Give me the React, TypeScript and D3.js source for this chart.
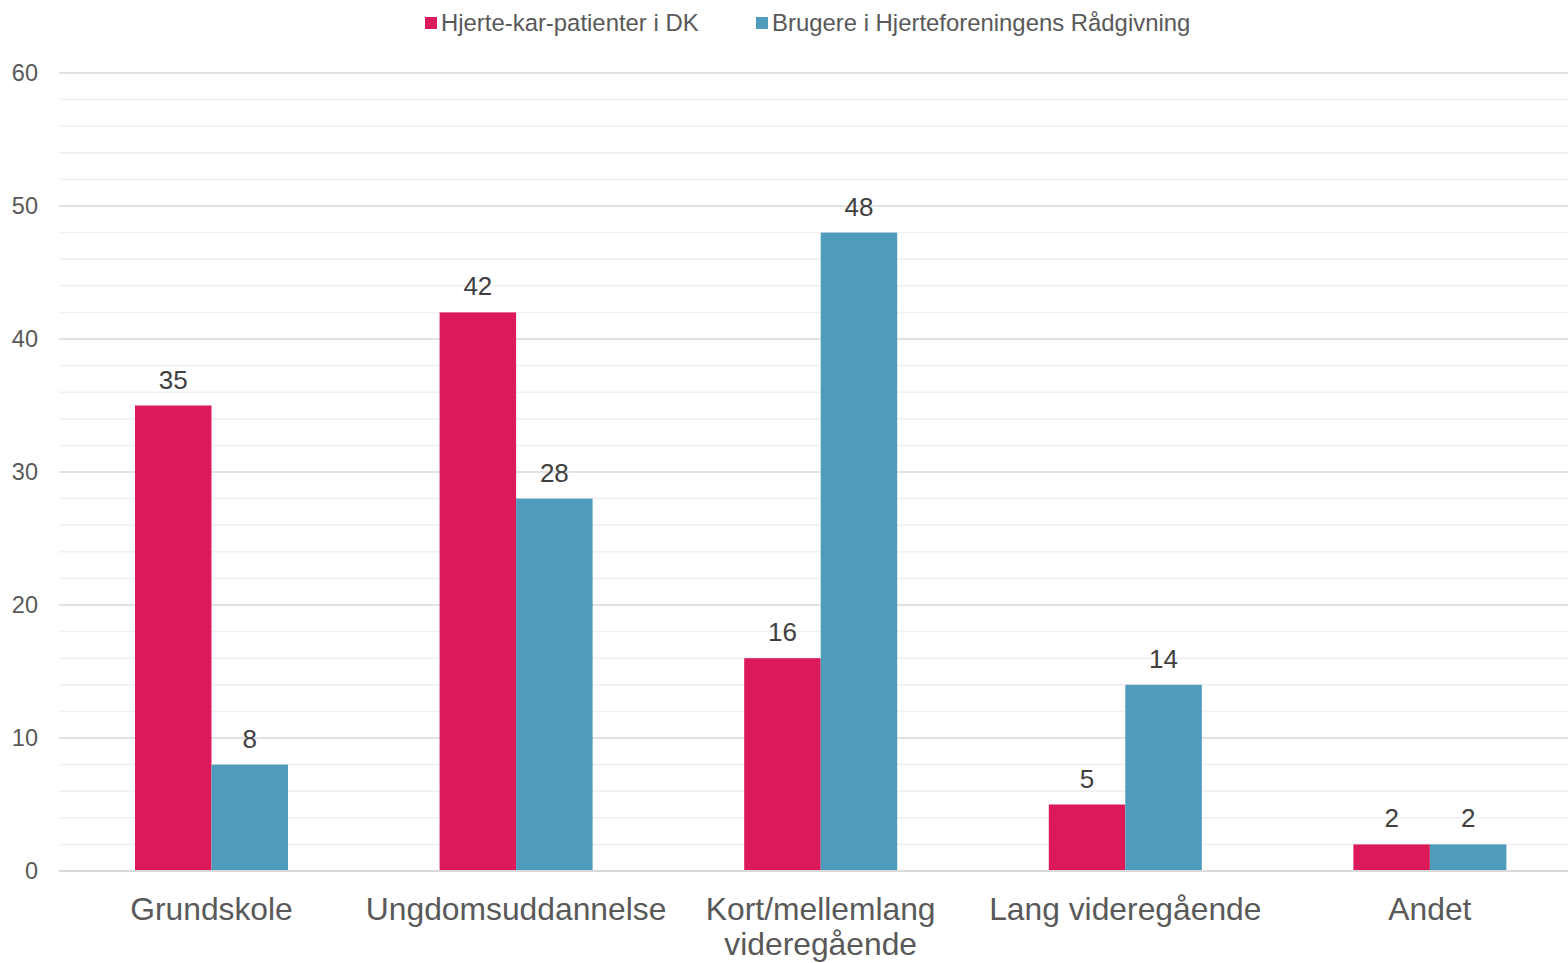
import React from "react";
import * as d3 from "d3";

const categories = ["Grundskole", "Ungdomsuddannelse", "Kort/mellemlang videregående", "Lang videregående", "Andet"];
const categoryLines = [["Grundskole"], ["Ungdomsuddannelse"], ["Kort/mellemlang", "videregående"], ["Lang videregående"], ["Andet"]];
const seriesNames = ["Hjerte-kar-patienter i DK", "Brugere i Hjerteforeningens Rådgivning"];
const seriesColors = ["#DD1A59", "#4F9BBB"];
const patients = [35, 42, 16, 5, 2];
const users = [8, 28, 48, 14, 2];
const majorTicks = [0, 10, 20, 30, 40, 50, 60];
const minorTicks = d3.range(0, 61, 2);

const W = 1568;
const H = 963;
const FONT = "'Liberation Sans', Arial, sans-serif";

export default function App() {
  const x = d3.scaleBand<string>().domain(categories).range([59.2, 1582.2]).paddingInner(0).paddingOuter(0);
  const y = d3.scaleLinear().domain([0, 60]).range([871, 73]);
  const barW = 76.5;
  const series = [patients, users];

  return (
    <svg width={W} height={H} style={{ position: "absolute", left: 0, top: 0, background: "#fff" }} fontFamily={FONT}>
      {minorTicks.filter((t) => t % 10 !== 0).map((t) => (
        <line key={"m" + t} x1={59} x2={W} y1={y(t)} y2={y(t)} stroke="#f0f0f0" strokeWidth={1.5} />
      ))}
      {majorTicks.map((t) => (
        <g key={"M" + t}>
          <line x1={59} x2={W} y1={y(t)} y2={y(t)} stroke="#d9d9d9" strokeWidth={1.5} />
          <text x={38} y={y(t) + 8} textAnchor="end" fontSize={23.5} fill="#595959">{t}</text>
        </g>
      ))}
      {categories.map((c, i) => {
        const cx = x(c)! + x.bandwidth() / 2;
        return (
          <g key={c}>
            {series.map((s, j) => {
              const bx = cx - barW + j * barW;
              return (
                <g key={j}>
                  <rect x={bx} y={y(s[i])} width={barW} height={y(0) - y(s[i])} fill={seriesColors[j]} />
                  <text x={bx + barW / 2} y={y(s[i]) - 17} textAnchor="middle" fontSize={26} fill="#404040">{s[i]}</text>
                </g>
              );
            })}
            {categoryLines[i].map((ln, k) => (
              <text key={k} x={cx} y={920 + k * 35} textAnchor="middle" fontSize={31.8} fill="#595959">{ln}</text>
            ))}
          </g>
        );
      })}
      <line x1={59} x2={W} y1={y(0)} y2={y(0)} stroke="#d9d9d9" strokeWidth={2} />
      <g>
        <rect x={425} y={17} width={12} height={12} fill={seriesColors[0]} />
        <text x={441} y={31} fontSize={23.9} fill="#595959">{seriesNames[0]}</text>
        <rect x={756} y={17} width={12} height={12} fill={seriesColors[1]} />
        <text x={772} y={31} fontSize={23.9} fill="#595959">{seriesNames[1]}</text>
      </g>
    </svg>
  );
}
